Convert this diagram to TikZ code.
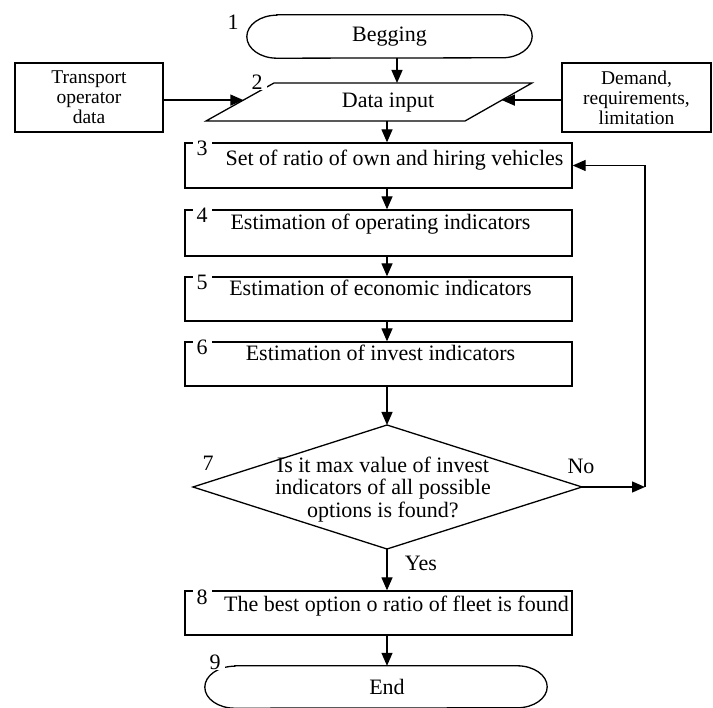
\documentclass[tikz,border=0pt]{standalone}
\usepackage{fontspec}
\setmainfont{Liberation Serif}
\usetikzlibrary{arrows.meta,calc}
\begin{document}
\begin{tikzpicture}[x=1pt,y=-1pt,
  lw/.style={line width=1.3pt},
  proc/.style={draw,lw,minimum width=387pt,inner sep=0pt,font=\fontsize{22}{22.5}\selectfont,text height=15pt},
  side/.style={draw,lw,inner sep=0pt,align=center,font=\fontsize{19.5}{20}\selectfont},
  term/.style={inner sep=0pt,font=\fontsize{22}{22.5}\selectfont},
  num/.style={fill=white,inner xsep=4pt,inner ysep=1pt,font=\fontsize{22}{22}\selectfont},
  lbl/.style={inner sep=0pt,font=\fontsize{22}{22}\selectfont},
  arr/.style={lw,-{Triangle[length=13pt,width=11pt]}}]
\useasboundingbox[fill=white] (0,0) rectangle (713,708);

% terminator 1
\node[term,minimum width=285pt,minimum height=43pt] (t1) at (389.5,36.5) {Begging};
\draw[lw] ([xshift=30pt]t1.north west) -- ([xshift=-30pt]t1.north east)
  arc[start angle=90,end angle=-90,x radius=30pt,y radius=21.5pt]
  -- ([xshift=30pt]t1.south west)
  arc[start angle=270,end angle=90,x radius=30pt,y radius=21.5pt] -- cycle;

% data input parallelogram
\coordinate (p2bl) at (206,121);
\coordinate (p2br) at (465,121);
\coordinate (p2tr) at (532,83);
\coordinate (p2tl) at (274,83);
\draw[lw] (p2bl) -- (p2br) -- (p2tr) -- (p2tl) -- cycle;
\node[term] (din) at (388,103) {Data input};

% side boxes
\node[side,minimum width=148pt,minimum height=69pt] (tr) at (89,97.5) {Transport\\operator\\data};
\node[side,minimum width=149pt,minimum height=69pt] (dm) at (636.5,97.5) {Demand,\\requirements,\\limitation};

% process boxes
\node[proc,minimum height=45pt,text depth=15pt] (b3) at (378.5,165.5) {\hspace*{32pt}Set of ratio of own and hiring vehicles};
\node[proc,minimum height=46pt,text depth=21pt] (b4) at (378.5,233) {\hspace*{4pt}Estimation of operating indicators};
\node[proc,minimum height=44pt,text depth=21pt] (b5) at (378.5,299) {\hspace*{4pt}Estimation of economic indicators};
\node[proc,minimum height=44pt,text depth=21pt] (b6) at (378.5,364) {\hspace*{4pt}Estimation of invest indicators};

% decision
\coordinate (d7n) at (387,425);
\coordinate (d7e) at (582,487);
\coordinate (d7s) at (387,549);
\coordinate (d7w) at (193,487);
\draw[lw] (d7n) -- (d7e) -- (d7s) -- (d7w) -- cycle;
\node[term,align=center] (q7) at (383,489.5) {Is it max value of invest\\indicators of all possible\\options is found?};

\node[proc,minimum height=44pt,text depth=17pt] (b8) at (378.5,613) {\hspace*{36pt}The best option o ratio of fleet is found};

% terminator 9
\node[term,minimum width=342pt,minimum height=42pt] (t9) at (376,687) {\hspace*{22pt}End};
\draw[lw] ([xshift=30pt]t9.north west) -- ([xshift=-30pt]t9.north east)
  arc[start angle=90,end angle=-90,x radius=30pt,y radius=21pt]
  -- ([xshift=30pt]t9.south west)
  arc[start angle=270,end angle=90,x radius=30pt,y radius=21pt] -- cycle;

% connectors
\coordinate (sp) at (387,0);
\coordinate (lt) at ($(p2bl)!0.55!(p2tl)$);
\coordinate (rt) at ($(p2br)!0.55!(p2tr)$);
\coordinate (fb) at (645,487);
\draw[arr] ([xshift=7.5pt]t1.south) -- ([xshift=7.5pt]t1.south |- p2tr);
\draw[arr] (tr.east |- lt) -- (lt);
\draw[arr] (dm.west |- rt) -- (rt);
\draw[arr] (sp |- p2bl) -- (sp |- b3.north);
\draw[arr] (sp |- b3.south) -- (sp |- b4.north);
\draw[arr] (sp |- b4.south) -- (sp |- b5.north);
\draw[arr] (sp |- b5.south) -- (sp |- b6.north);
\draw[arr] (sp |- b6.south) -- (d7n);
\draw[arr] (d7s) -- (sp |- b8.north);
\draw[arr] (sp |- b8.south) -- (sp |- t9.north);
\draw[arr] (d7e) -- (fb);
\draw[arr] (fb) |- (b3.east);

% number labels
\node[num] (n1) at (233,22) {1};
\node[num] (n2) at (257,82) {2};
\node[num] (n3) at (202,148) {3};
\node[num] (n4) at (202,215) {4};
\node[num] (n5) at (202,282) {5};
\node[num] (n6) at (202,347) {6};
\node[lbl] (n7) at (208,463) {7};
\node[num] (n8) at (202,597) {8};
\node[num] (n9) at (215,662) {9};
\node[lbl] (no) at (581,466) {No};
\node[lbl] (yes) at (421,563) {Yes};
\end{tikzpicture}
\end{document}
